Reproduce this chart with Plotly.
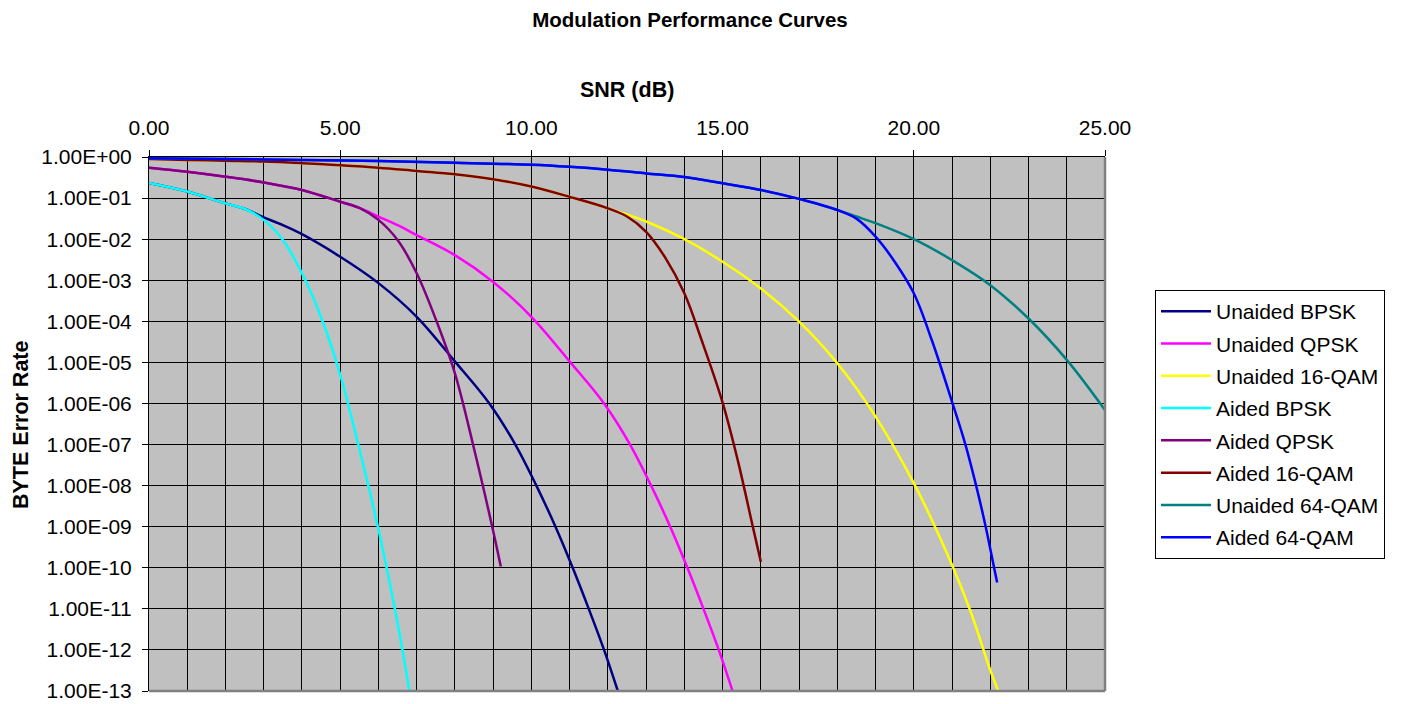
import plotly.graph_objects as go

# ---------------- data ----------------
series_names = ["Unaided BPSK", "Unaided QPSK", "Unaided 16-QAM", "Aided BPSK",
                "Aided QPSK", "Aided 16-QAM", "Unaided 64-QAM", "Aided 64-QAM"]
series_colors = ["#000080", "#FF00FF", "#FFFF00", "#00FFFF",
                 "#800080", "#800000", "#008080", "#0000FF"]

unaided_bpsk_x = [0, 1, 2, 2.5, 3, 3.5, 4, 5, 6, 7, 8.02, 8.9, 9.58, 10.13, 10.63, 11.08, 11.5, 11.9, 12.26]
unaided_bpsk_y = [0.234, 0.145, 0.0741, 0.055, 0.0339, 0.0219, 0.0132, 0.00372, 8.5e-4, 1.29e-4,
                  1e-5, 1e-6, 1e-7, 1e-8, 1e-9, 1e-10, 1e-11, 1e-12, 1e-13]

unaided_qpsk_x = [0, 1, 2, 3, 4, 5, 5.5, 6, 6.5, 7, 8, 9, 10, 11.02, 11.9, 12.58, 13.13, 13.63, 14.08,
                  14.5, 14.9, 15.26]
unaided_qpsk_y = [0.55, 0.437, 0.331, 0.24, 0.158, 0.0813, 0.0575, 0.0355, 0.0219, 0.0126, 0.00407,
                  9.1e-4, 1.29e-4, 1e-5, 1e-6, 1e-7, 1e-8, 1e-9, 1e-10, 1e-11, 1e-12, 1e-13]

unaided_16qam_x = [0, 1, 2, 3, 4, 5, 6, 7, 8, 9, 10, 11, 12, 12.5, 13, 14, 15, 16, 17, 18, 19, 20,
                   21, 21.5, 22, 22.21]
unaided_16qam_y = [0.891, 0.851, 0.813, 0.776, 0.708, 0.631, 0.55, 0.457, 0.38, 0.288, 0.191, 0.107,
                   0.0562, 0.0398, 0.0269, 0.01, 0.00282, 6.3e-4, 9.8e-5, 9.5e-6, 4.8e-7, 1.15e-8,
                   1.17e-10, 7.9e-12, 3.2e-13, 1e-13]

aided_bpsk_x = [0, 1, 2, 2.5, 3, 3.5, 4, 4.5, 5, 5.5, 6, 6.5, 6.81]
aided_bpsk_y = [0.234, 0.145, 0.0741, 0.055, 0.0295, 0.00955, 0.00148, 1.26e-4, 5.0e-6, 7.9e-8,
                8.7e-10, 4.5e-12, 1e-13]

aided_qpsk_x = [0, 1, 2, 3, 4, 5, 5.5, 6, 6.5, 7, 7.5, 8, 8.5, 9, 9.2]
aided_qpsk_y = [0.55, 0.437, 0.331, 0.24, 0.158, 0.0813, 0.0575, 0.0295, 0.00955, 0.00148, 1.12e-4,
                5.4e-6, 7.9e-8, 7.9e-10, 1.07e-10]

aided_16qam_x = [0, 1, 2, 3, 4, 5, 6, 7, 8, 9, 10, 11, 12, 12.5, 13, 13.5, 14, 14.45, 15, 15.4,
                 15.8, 16]
aided_16qam_y = [0.891, 0.851, 0.813, 0.776, 0.708, 0.631, 0.55, 0.457, 0.38, 0.288, 0.191, 0.107,
                 0.0562, 0.0355, 0.0151, 0.00355, 4.8e-4, 3.5e-5, 1.05e-6, 4.0e-8, 9.1e-10, 1.4e-10]

unaided_64qam_x = [0, 2, 4, 6, 8, 10, 11, 12, 13, 14, 15, 16, 17, 18, 18.5, 19, 20, 21, 22, 23, 24, 25]
unaided_64qam_y = [0.933, 0.891, 0.851, 0.794, 0.724, 0.646, 0.575, 0.49, 0.398, 0.324, 0.229, 0.158,
                   0.0955, 0.0513, 0.0355, 0.0245, 0.01, 0.00309, 7.6e-4, 1.17e-4, 1.15e-5, 6.9e-7]

aided_64qam_x = [0, 2, 4, 6, 8, 10, 11, 12, 13, 14, 15, 16, 17, 18, 18.5, 19, 19.5, 20, 20.47,
                 21, 21.35, 21.63, 21.88, 22.1, 22.18]
aided_64qam_y = [0.933, 0.891, 0.851, 0.794, 0.724, 0.646, 0.575, 0.49, 0.398, 0.324, 0.229, 0.158,
                 0.0955, 0.0513, 0.0316, 0.0115, 0.00282, 4.8e-4, 3.5e-5, 1.1e-6, 1e-7, 1e-8, 1e-9,
                 1e-10, 4.4e-11]

y_tick_values = [1e0, 1e-1, 1e-2, 1e-3, 1e-4, 1e-5, 1e-6, 1e-7, 1e-8, 1e-9, 1e-10, 1e-11, 1e-12, 1e-13]
y_tick_labels = ["1.00E+00", "1.00E-01", "1.00E-02", "1.00E-03", "1.00E-04", "1.00E-05", "1.00E-06",
                 "1.00E-07", "1.00E-08", "1.00E-09", "1.00E-10", "1.00E-11", "1.00E-12", "1.00E-13"]

all_x = [unaided_bpsk_x, unaided_qpsk_x, unaided_16qam_x, aided_bpsk_x,
         aided_qpsk_x, aided_16qam_x, unaided_64qam_x, aided_64qam_x]
all_y = [unaided_bpsk_y, unaided_qpsk_y, unaided_16qam_y, aided_bpsk_y,
         aided_qpsk_y, aided_16qam_y, unaided_64qam_y, aided_64qam_y]

# ---------------- figure ----------------
FONT = "Liberation Sans, Arial, Helvetica, sans-serif"
fig = go.Figure()
for i, (name, color, xs, ys) in enumerate(zip(series_names, series_colors, all_x, all_y)):
    fig.add_trace(go.Scatter(
        x=xs, y=ys, name=name, mode="lines", legendgroup=f"g{i}",
        line=dict(color=color, width=2.5, shape="spline", smoothing=1.0),
    ))

OFF = 8                       # page body margin offset
W, H = 1403 - OFF, 704 - OFF
L, T = 149 - OFF, 157 - OFF
pw, ph = 956, 534
R, B = W - L - pw, H - T - ph


def px(xp):
    return (xp - OFF - L) / pw


def py(yp):
    return (T + ph - (yp - OFF)) / ph


fig.update_layout(
    width=W, height=H,
    margin=dict(l=L, r=R, t=T, b=B, pad=0, autoexpand=False),
    paper_bgcolor="white", plot_bgcolor="#C0C0C0",
    font=dict(family=FONT, size=21, color="black"),
    title=dict(text="<b>Modulation Performance Curves</b>", x=(690 - OFF) / W, xanchor="center",
               y=1 - 4.5 / H, yanchor="top", font=dict(size=20.5, family=FONT)),
    showlegend=True,
    legend=dict(x=px(1155), y=py(290), xanchor="left", yanchor="top",
                bgcolor="white", bordercolor="black", borderwidth=1,
                font=dict(size=21, family=FONT), tracegroupgap=2, itemwidth=50,
                traceorder="grouped"),
    xaxis=dict(
        side="top", range=[0, 25], tick0=0, dtick=5, tickformat=".2f",
        showgrid=True, gridcolor="black", gridwidth=1, automargin=False,
        minor=dict(dtick=1, showgrid=True, gridcolor="black", gridwidth=1, ticklen=0),
        ticks="outside", ticklen=6, tickcolor="black", ticklabelstandoff=7,
        showline=True, linecolor="black", linewidth=1, mirror=False,
        zeroline=False, tickfont=dict(size=21),
    ),
    yaxis=dict(
        type="log", range=[-13, 0], tickmode="array", automargin=False,
        tickvals=y_tick_values, ticktext=y_tick_labels,
        showgrid=True, gridcolor="black", gridwidth=1,
        ticks="outside", ticklen=6, tickcolor="black", ticklabelstandoff=6,
        showline=True, linecolor="black", linewidth=1, mirror=False,
        zeroline=False, tickfont=dict(size=21),
    ),
    annotations=[
        dict(text="<b>SNR (dB)</b>", xref="paper", yref="paper", x=px(627), y=py(90),
             xanchor="center", yanchor="middle", showarrow=False, font=dict(size=21.5)),
        dict(text="<b>BYTE Error Rate</b>", xref="paper", yref="paper", x=px(21), y=py(425),
             xanchor="center", yanchor="middle", showarrow=False, textangle=-90,
             font=dict(size=21.5)),
    ],
    shapes=[
        dict(type="line", xref="paper", yref="paper", x0=1, x1=1, y0=0, y1=1,
             line=dict(color="#808080", width=2.5), layer="above"),
        dict(type="line", xref="paper", yref="paper", x0=0, x1=1, y0=0, y1=0,
             line=dict(color="#808080", width=2.5), layer="above"),
    ],
)

fig.write_html("out.html")
